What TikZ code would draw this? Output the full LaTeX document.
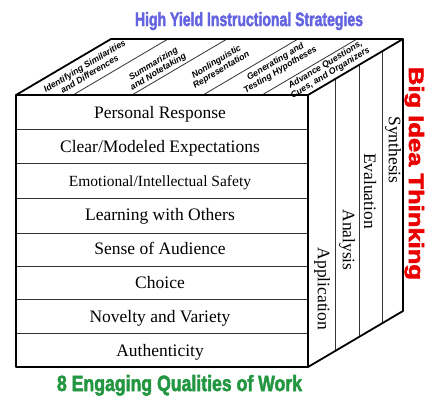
\documentclass[tikz,border=0pt]{standalone}
\usepackage{fontspec}
\usepackage{graphicx}
\setmainfont{Liberation Serif}
\newfontfamily\headfont{Liberation Sans}
\newfontfamily\heavyfont[FakeBold=2.5]{Liberation Sans Bold}
\definecolor{headblue}{RGB}{100,100,225}
\definecolor{headred}{RGB}{235,0,0}
\definecolor{headgreen}{RGB}{35,150,65}
\tikzset{
    edge/.style={line width=1.8pt, line join=round}, % outer edges of the cube
    rule/.style={line width=0.8pt, black!80}, % inner dividing lines
    quality/.style={inner sep=0pt, anchor=base}, % rows on the front face
    level/.style={font=\fontsize{17.5}{17.5}\selectfont, rotate=-90, inner sep=0pt}, % columns on the side face
    strategy/.style={font=\headfont\bfseries\itshape\fontsize{8.8}{9.4}\selectfont, rotate=31, align=center, inner sep=0pt}, % strips on the top face
    heading/.style={font=\heavyfont, inner sep=0pt, anchor=base} % titles round the cube
}

\begin{document}
\begin{tikzpicture}[x=1pt, y=-1pt]
    \useasboundingbox (0,0) rectangle (441,400);
    \def\xl{16} \def\xr{308} \def\yt{95} \def\yb{367} \def\dx{95} \def\dy{56}

    \draw[rule] \foreach \y in {129,163,198,233,266,299,333} {(\xl,\y) -- (\xr,\y)};
    \foreach \x in {73,132,203,262} {\draw[rule] (\x,\yt) -- ++(\dx,-\dy);}
    \foreach \x in {335,359,382} {\draw[rule] (\x,{\yt-(\x-\xr)*\dy/\dx}) -- (\x,{\yb-(\x-\xr)*\dy/\dx});}

    \draw[edge] (\xl,\yt) rectangle (\xr,\yb);
    \draw[edge] (\xl,\yt) -- ++(\dx,-\dy) -- (\xr+\dx,\yt-\dy) -- (\xr,\yt);
    \draw[edge] (\xr+\dx,\yt-\dy) -- (\xr+\dx,\yb-\dy) -- (\xr,\yb);

    \foreach \txt/\sz [count=\i] in {{Personal Response}/17.5, {Clear/Modeled Expectations}/17.5, {Emotional/Intellectual Safety}/15.5, {Learning with Others}/17.5, {Sense of Audience}/17.5, {Choice}/17.5, {Novelty and Variety}/17.5, {Authenticity}/17.5}
        {\node[quality, font=\fontsize{\sz}{\sz}\selectfont] (q\i) at (160, \yt+34*\i-11) {\txt};}

    \foreach \x/\y/\txt [count=\i] in {322/289/Application, 347/240/Analysis, 370/191/Evaluation, 393/150/Synthesis}
        {\node[level] (b\i) at (\x,\y) {\txt};}

    \foreach \x/\y/\txt [count=\i] in {87/70/{Identifying Similarities\\and Differences}, 156/68/{Summarizing\\and Notetaking}, 219/66/{Nonlinguistic\\Representation}, 278/66/{Generating and\\Testing Hypotheses}, 328/69/{Advance Questions,\\Cues, and Organizers}}
        {\node[strategy] (s\i) at (\x,\y) {\txt};}

    \node[heading, text=headblue] (hyis) at (249,26) {\resizebox{228pt}{14pt}{High Yield Instructional Strategies}};
    \node[heading, text=headred, rotate=-90] (bit) at (409,173.5) {\resizebox{213pt}{15pt}{Big Idea Thinking}};
    \node[heading, text=headgreen] (eqw) at (179.5,391) {\resizebox{245pt}{16pt}{8 Engaging Qualities of Work}};
\end{tikzpicture}
\end{document}
